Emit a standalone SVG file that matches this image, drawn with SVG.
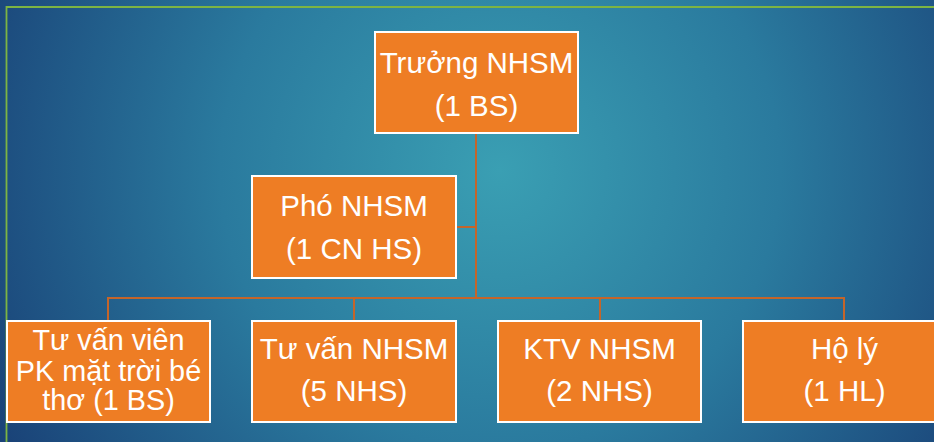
<svg xmlns="http://www.w3.org/2000/svg" width="934" height="442" viewBox="0 0 934 442">
<defs>
<radialGradient id="bg" cx="500" cy="170" r="560" gradientUnits="userSpaceOnUse">
<stop offset="0" stop-color="#3A9FB3"/>
<stop offset="0.5" stop-color="#2A7A9E"/>
<stop offset="1" stop-color="#1A4378"/>
</radialGradient>
<style>
.box{fill:#EE7D24;stroke:#FFFFFF;stroke-width:2}
.t{font-family:"Liberation Sans",Arial,sans-serif;font-size:29.5px;fill:#FFFFFF;text-anchor:middle}
.s{font-size:28.8px}
.c{fill:none;stroke:#C4652A;stroke-width:2}
</style>
</defs>
<rect x="0" y="0" width="934" height="442" fill="url(#bg)"/>
<path d="M6.5 442 V7 H934" fill="none" stroke="#7DB443" stroke-width="1.8"/>
<g id="connectors">
<path class="c" d="M476 133 V298"/>
<path class="c" d="M456 227 H476"/>
<path class="c" d="M108 321 V298 H844 V321"/>
<path class="c" d="M354 298 V321"/>
<path class="c" d="M600 298 V321"/>
</g>
<g id="truong">
<rect class="box" x="375" y="32" width="203" height="101"/>
<text class="t" x="476.5" y="72.5">Trưởng NHSM</text>
<text class="t" x="476.5" y="116">(1 BS)</text>
</g>
<g id="pho">
<rect class="box" x="252" y="176" width="204" height="102"/>
<text class="t" x="354" y="216">Phó NHSM</text>
<text class="t" x="354" y="258.5">(1 CN HS)</text>
</g>
<g id="tuvanvien">
<rect class="box" x="7" y="321" width="203" height="101"/>
<text class="t s" x="108.5" y="350">Tư vấn viên</text>
<text class="t s" x="108.5" y="381">PK mặt trời bé</text>
<text class="t s" x="108.5" y="410">thơ (1 BS)</text>
</g>
<g id="tuvan">
<rect class="box" x="252" y="321" width="204" height="101"/>
<text class="t" x="354" y="359">Tư vấn NHSM</text>
<text class="t" x="354" y="400.5">(5 NHS)</text>
</g>
<g id="ktv">
<rect class="box" x="498" y="321" width="203" height="101"/>
<text class="t" x="599.5" y="359">KTV NHSM</text>
<text class="t" x="599.5" y="400.5">(2 NHS)</text>
</g>
<g id="holy">
<rect class="box" x="743" y="321" width="203" height="101"/>
<text class="t" x="844.5" y="359">Hộ lý</text>
<text class="t" x="844.5" y="400.5">(1 HL)</text>
</g>
</svg>
